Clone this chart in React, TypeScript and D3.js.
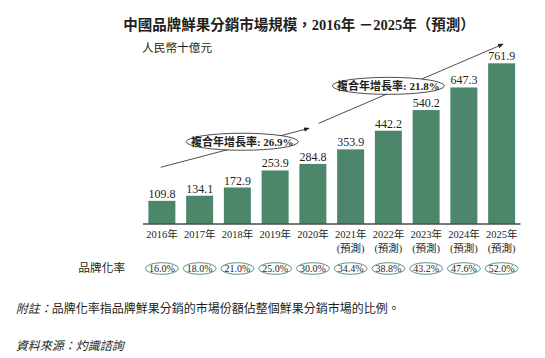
import { useMemo } from 'react'
import * as d3 from 'd3'

const years = ['2016', '2017', '2018', '2019', '2020', '2021', '2022', '2023', '2024', '2025']
const forecast = [false, false, false, false, false, true, true, true, true, true]
const marketSize = [109.8, 134.1, 172.9, 253.9, 284.8, 353.9, 442.2, 540.2, 647.3, 761.9]
const brandRate = ['16.0%', '18.0%', '21.0%', '25.0%', '30.0%', '34.4%', '38.8%', '43.2%', '47.6%', '52.0%']

// CAGR annotations in data units: x = bar index, y = market size
const cagrLabels = ['複合年增長率: 26.9%', '複合年增長率: 21.8%']
const cagrArrows = [
  { x0: -0.03, y0: 269, x1: 3.9, y1: 454, cx: 2.13, cy: 390 },
  { x0: 4.15, y0: 477, x1: 9.04, y1: 853, cx: 6.0, cy: 655 },
]

const title = '中國品牌鮮果分銷市場規模，2016年 －2025年（預測）'
const unitLabel = '人民幣十億元'
const rowLabel = '品牌化率'
const forecastLabel = '(預測)'
const noteLead = '附註：'
const noteBody = '品牌化率指品牌鮮果分銷的市場份額佔整個鮮果分銷市場的比例。'
const source = '資料來源：灼識諮詢'

const W = 545
const H = 358
const GREEN = '#4c876c'
const INK = '#231f20'
const SERIF = '"Liberation Serif", "Times New Roman", "Noto Sans CJK TC", serif'

export default function App() {
  const x = useMemo(
    () => d3.scaleBand<string>().domain(years).range([143, 520.5]).paddingInner(0.285).paddingOuter(0.1425),
    [],
  )
  const y = useMemo(() => d3.scaleLinear().domain([0, 761.9]).range([224, 63.3]), [])

  const cx = (i: number) => (x(years[0]) ?? 0) + x.bandwidth() / 2 + i * x.step()

  return (
    <svg
      width={W}
      height={H}
      viewBox={`0 0 ${W} ${H}`}
      style={{ position: 'absolute', left: 0, top: 0, background: '#fff' }}
      fontFamily={SERIF}
    >
      <defs>
        <marker id="arrow" viewBox="0 0 10 10" refX="9" refY="5" markerWidth="7" markerHeight="7" orient="auto">
          <path d="M0,1 L10,5 L0,9 z" fill={INK} />
        </marker>
      </defs>

      <text x={299} y={30} textAnchor="middle" fontSize={14.5} fontWeight="bold" fill={INK}>
        {title}
      </text>
      <text x={142} y={51.5} fontSize={11.7} fill={INK}>
        {unitLabel}
      </text>

      {/* bars */}
      {years.map((yr, i) => (
        <g key={yr}>
          <rect
            x={x(yr)}
            y={y(marketSize[i])}
            width={x.bandwidth()}
            height={y(0) - y(marketSize[i])}
            fill={GREEN}
          />
          <text x={cx(i)} y={y(marketSize[i]) - 3} textAnchor="middle" fontSize={12} fill={INK}>
            {marketSize[i].toFixed(1)}
          </text>
        </g>
      ))}

      {/* axis */}
      <line x1={143} x2={520.5} y1={y(0)} y2={y(0)} stroke="#4d4d4d" strokeWidth={1.3} />

      {/* year labels */}
      {years.map((yr, i) => (
        <g key={'lab' + yr}>
          <text x={cx(i)} y={237.5} textAnchor="middle" fontSize={10.5} fill={INK}>
            {yr + '年'}
          </text>
          {forecast[i] && (
            <text x={cx(i)} y={252.3} textAnchor="middle" fontSize={10.5} fill={INK}>
              {forecastLabel}
            </text>
          )}
        </g>
      ))}

      {/* CAGR arrows */}
      {cagrArrows.map((a, k) => (
        <g key={'cagr' + k}>
          <line
            x1={cx(a.x0)}
            y1={y(a.y0)}
            x2={cx(a.x1)}
            y2={y(a.y1)}
            stroke={INK}
            strokeWidth={0.8}
            markerEnd="url(#arrow)"
          />
          <ellipse cx={cx(a.cx)} cy={y(a.cy)} rx={56} ry={8.5} fill="#fff" stroke={INK} strokeWidth={0.8} />
          <text x={cx(a.cx)} y={y(a.cy) + 4} textAnchor="middle" fontSize={11} fontWeight="bold" fill={INK}>
            {cagrLabels[k]}
          </text>
        </g>
      ))}

      {/* brand rate row */}
      <text x={101.7} y={271.5} textAnchor="middle" fontSize={11.7} fill={INK}>
        {rowLabel}
      </text>
      {brandRate.map((r, i) => (
        <g key={'br' + i}>
          <ellipse cx={cx(i)} cy={268.5} rx={16.5} ry={5.8} fill="none" stroke={GREEN} strokeWidth={0.9} />
          <text x={cx(i)} y={272} textAnchor="middle" fontSize={10} fill={INK}>
            {r}
          </text>
        </g>
      ))}

      {/* notes */}
      <text x={15.7} y={312.5} fontSize={12} fill={INK}>
        <tspan fontStyle="italic">{noteLead}</tspan>
        <tspan>{noteBody}</tspan>
      </text>
      <text x={15.7} y={350} fontSize={12} fontStyle="italic" fill={INK}>
        {source}
      </text>
    </svg>
  )
}
